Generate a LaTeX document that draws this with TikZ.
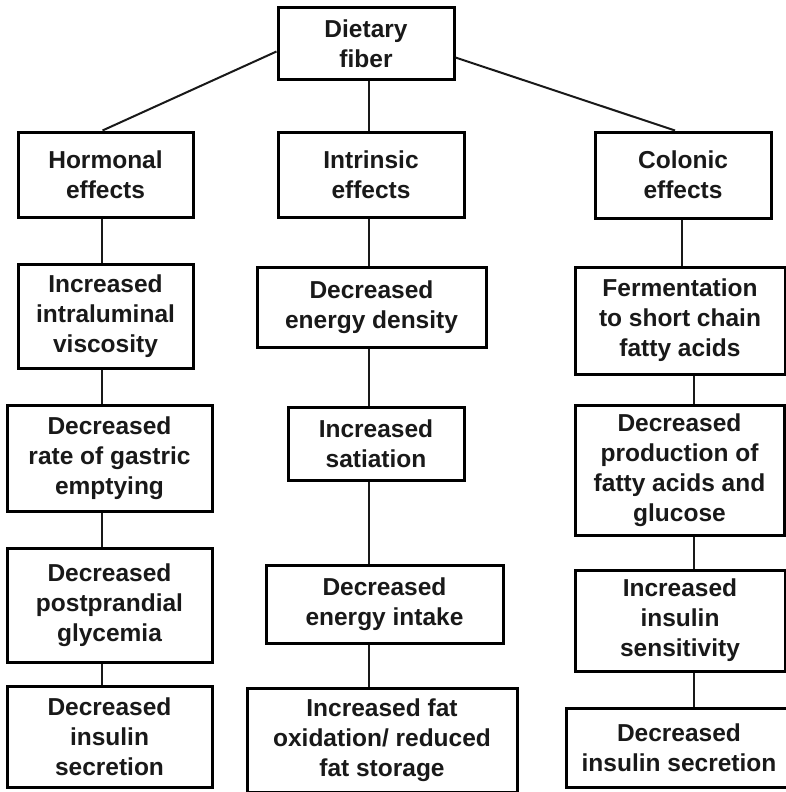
\documentclass[tikz,border=0pt]{standalone}
\usepackage{fontspec}
\setmainfont{Liberation Sans}
\begin{document}
\begin{tikzpicture}[x=1pt,y=-1pt,
  box/.style={draw=black, line width=3pt, align=center, inner sep=0pt,
    font=\bfseries\fontsize{24.5}{30}\selectfont, text=black!90},
  link/.style={draw=black!90, line width=2pt}]
\useasboundingbox (0,0) rectangle (786,792);
\fill[white] (0,0) rectangle (786,792);

% box spanning (x0,y0)-(x1,y1) in page coordinates
\def\mkbox#1#2#3#4#5#6{%
  \node[box, minimum width=#4-#2, minimum height=#5-#3] (#1)
    at ({(#2+#4)/2},{(#3+#5)/2}) {#6};}

\mkbox{fiber}{278}{8}{454}{79}{Dietary\\fiber}
\mkbox{horm}{18}{132}{193}{217}{Hormonal\\effects}
\mkbox{intr}{278}{132}{464}{217}{Intrinsic\\effects}
\mkbox{colo}{595}{132}{771}{218}{Colonic\\effects}

\mkbox{visc}{18}{264}{193}{368}{Increased\\intraluminal\\viscosity}
\mkbox{dens}{257}{267}{486}{347}{Decreased\\energy density}
\mkbox{ferm}{575}{267}{785}{374}{Fermentation\\to short chain\\fatty acids}

\mkbox{gast}{7}{405}{212}{511}{Decreased\\rate of gastric\\emptying}
\mkbox{sati}{288}{407}{464}{480}{Increased\\satiation}
\mkbox{prod}{575}{405}{784}{535}{Decreased\\production of\\fatty acids and\\glucose}

\mkbox{glyc}{7}{548}{212}{662}{Decreased\\postprandial\\glycemia}
\mkbox{intk}{266}{565}{503}{643}{Decreased\\energy intake}
\mkbox{sens}{575}{570}{785}{671}{Increased\\insulin\\sensitivity}

\mkbox{secl}{7}{686}{212}{787}{Decreased\\insulin\\secretion}
\mkbox{oxid}{247}{688}{517}{792}{Increased fat\\oxidation/ reduced\\fat storage}
\mkbox{secr}{566}{708}{792}{787}{Decreased\\insulin secretion}

% vertical guide positions of the three chains
\coordinate (cL) at (102,0);
\coordinate (cM) at (369,0);
\coordinate (cR) at (682,0);
\coordinate (cR2) at (694,0);

% branches from the top box
\draw[link] ([yshift=-8pt]fiber.west) -- ([xshift=-3pt]horm.north);
\draw[link] (fiber.south -| cM) -- (intr.north -| cM);
\draw[link] ([yshift=-14pt]fiber.east) -- ([xshift=-8pt]colo.north);

% hormonal chain
\draw[link] (horm.south -| cL) -- (visc.north -| cL);
\draw[link] (visc.south -| cL) -- (gast.north -| cL);
\draw[link] (gast.south -| cL) -- (glyc.north -| cL);
\draw[link] (glyc.south -| cL) -- (secl.north -| cL);

% intrinsic chain
\draw[link] (intr.south -| cM) -- (dens.north -| cM);
\draw[link] (dens.south -| cM) -- (sati.north -| cM);
\draw[link] (sati.south -| cM) -- (intk.north -| cM);
\draw[link] (intk.south -| cM) -- (oxid.north -| cM);

% colonic chain
\draw[link] (colo.south -| cR) -- (ferm.north -| cR);
\draw[link] (ferm.south -| cR2) -- (prod.north -| cR2);
\draw[link] (prod.south -| cR2) -- (sens.north -| cR2);
\draw[link] (sens.south -| cR2) -- (secr.north -| cR2);
\end{tikzpicture}
\end{document}
